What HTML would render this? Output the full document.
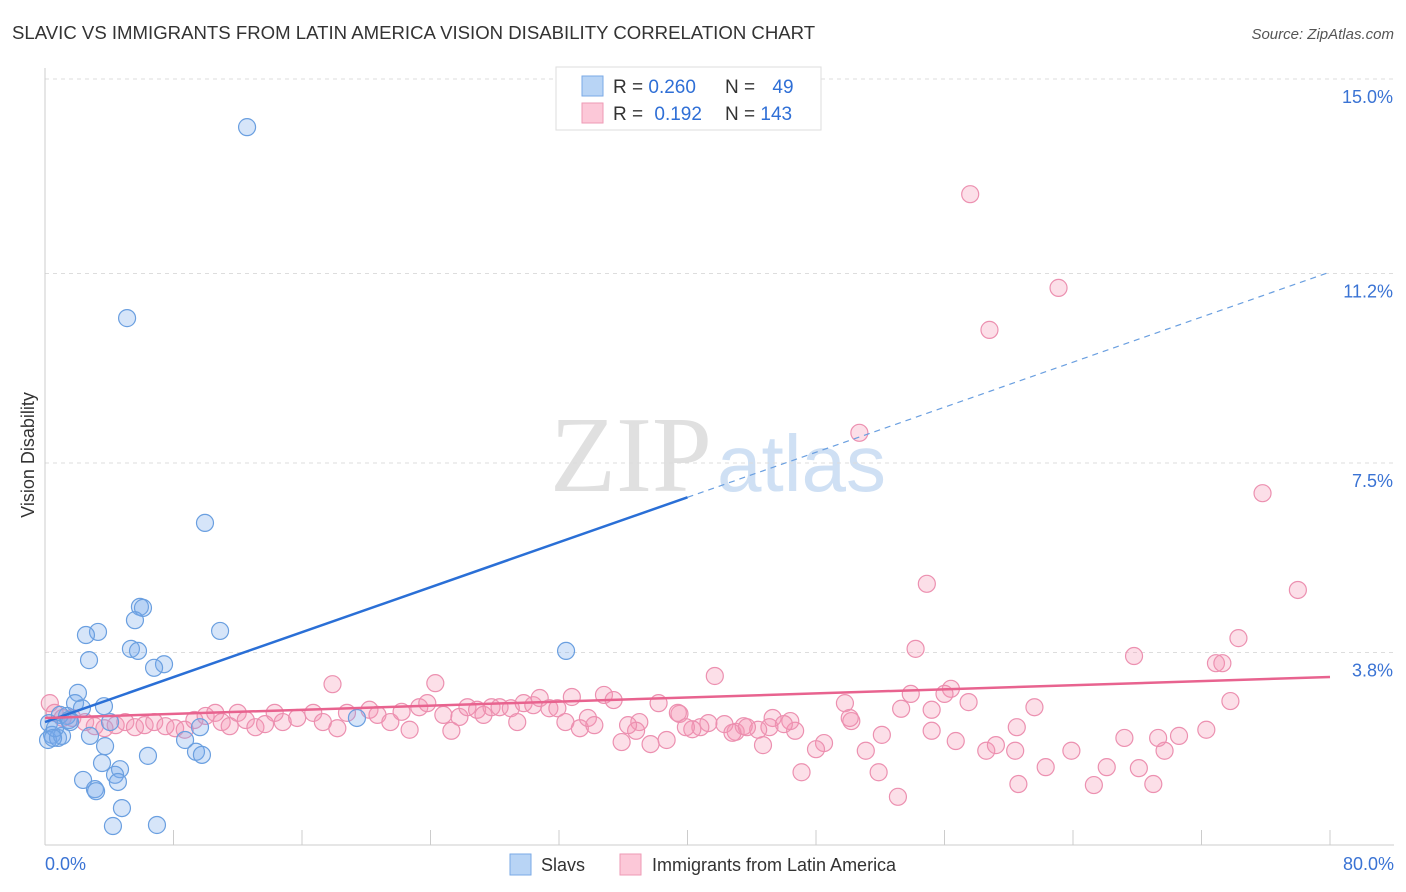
<!DOCTYPE html>
<html><head><meta charset="utf-8">
<style>
body{margin:0;background:#fff;font-family:"Liberation Sans",sans-serif;}
svg{display:block}
</style></head>
<body>
<svg id="chart" width="1406" height="892" viewBox="0 0 1406 892" xmlns="http://www.w3.org/2000/svg">
<text x="12" y="39" font-size="18.6" fill="#333">SLAVIC VS IMMIGRANTS FROM LATIN AMERICA VISION DISABILITY CORRELATION CHART</text>
<text x="1394" y="39" font-size="15" fill="#555" font-style="italic" text-anchor="end">Source: ZipAtlas.com</text>
<g>
<text x="712" y="491" font-size="108" fill="#e0e0e0" font-family="Liberation Serif,serif" text-anchor="end">ZIP</text>
<text x="717" y="491" font-size="80" fill="#cfe0f4">atlas</text>
</g>
<g id="grid"></g>
<g id="axes"></g>
<text x="34" y="455" font-size="18" fill="#333" text-anchor="middle" transform="rotate(-90 34 455)">Vision Disability</text>
<g id="pinkpts"></g>
<g id="bluepts"></g>
<g id="trends"></g>
<g>
<rect x="556" y="67" width="265" height="63" fill="#fff" stroke="#ddd"/>
<rect x="582" y="76" width="21" height="20" fill="#b8d4f5" stroke="#7aaae6"/>
<rect x="582" y="103" width="21" height="20" fill="#fcc8d8" stroke="#ee9ab5"/>
<text x="613" y="93" font-size="19" fill="#333">R = <tspan fill="#2f6fd6">0.260</tspan></text>
<text x="725" y="93" font-size="19" fill="#333">N = <tspan fill="#2f6fd6" dx="12">49</tspan></text>
<text x="613" y="120" font-size="19" fill="#333">R = <tspan fill="#2f6fd6" dx="6">0.192</tspan></text>
<text x="725" y="120" font-size="19" fill="#333">N = <tspan fill="#2f6fd6">143</tspan></text>
</g>
<g>
<rect x="510" y="854" width="21" height="21" fill="#b8d4f5" stroke="#7aaae6"/>
<text x="541" y="871" font-size="18" fill="#333">Slavs</text>
<rect x="620" y="854" width="21" height="21" fill="#fcc8d8" stroke="#ee9ab5"/>
<text x="652" y="871" font-size="18" fill="#333">Immigrants from Latin America</text>
</g>
</svg>
<script>
const yTicks=[3.8,7.5,11.2,15.0];
const yTickLabels=["3.8%","7.5%","11.2%","15.0%"];
const xTickLabels=["0.0%","80.0%"];
const slavX=[12.58,5.11,9.96,5.91,6.10,5.60,3.30,2.55,10.90,5.35,5.79,2.74,7.41,6.79,32.44,2.05,3.67,1.87,2.30,4.05,1.37,0.93,0.25,0.44,0.19,0.81,1.06,2.80,8.72,3.74,9.65,9.40,9.77,6.41,3.55,4.67,2.37,4.36,3.11,3.18,4.54,4.79,4.23,6.97,19.42,1.49,1.56,0.62,0.50];
const slavY=[14.06,10.33,6.33,4.69,4.67,4.43,4.20,4.14,4.22,3.87,3.83,3.65,3.57,3.50,3.83,3.01,2.75,2.81,2.71,2.44,2.56,2.58,2.42,2.19,2.09,2.13,2.17,2.17,2.09,1.97,2.34,1.86,1.80,1.78,1.64,1.52,1.31,1.41,1.13,1.09,1.27,0.76,0.41,0.43,2.52,2.48,2.44,2.32,2.13];
const latX=[57.6,63.1,58.8,50.7,75.8,54.9,78.0,74.3,54.2,67.8,72.9,73.3,41.7,56.4,56.0,53.9,57.5,73.8,61.6,49.8,17.9,24.3,34.8,35.4,32.8,38.2,53.1,69.0,60.6,65.3,62.3,68.1,66.1,51.9,47.1,63.9,69.7,60.4,58.6,59.2,51.1,48.5,48.0,44.7,67.2,69.3,70.6,72.3,60.5,56.7,55.2,52.1,46.7,43.0,50.2,50.1,53.3,55.2,46.4,45.3,46.0,45.1,44.4,43.5,42.3,41.3,40.8,40.3,39.5,38.7,37.7,37.0,36.8,35.9,14.8,15.7,16.7,17.3,18.2,18.8,20.2,20.7,21.5,22.2,22.7,23.3,23.8,24.8,25.3,25.8,26.3,26.9,27.3,27.8,28.3,29.0,29.4,29.8,30.4,30.8,31.4,31.9,32.4,33.3,33.8,34.2,36.3,39.4,39.9,42.8,43.7,0.3,0.6,1.1,1.7,2.5,3.1,3.7,4.4,5.0,5.6,6.2,6.8,7.5,8.1,8.7,9.3,10.0,10.6,11.0,11.5,12.0,12.5,13.1,13.7,14.3];
const latY=[12.75,10.92,10.10,8.09,6.91,5.14,5.02,4.08,3.87,3.73,3.59,3.59,3.34,3.09,2.99,2.99,2.83,2.85,2.73,2.81,3.18,3.20,2.97,2.87,2.93,2.81,0.98,1.23,1.23,1.21,1.56,1.54,1.56,1.46,1.46,1.88,1.88,1.88,1.88,1.99,1.88,2.03,1.91,1.99,2.13,2.13,2.17,2.29,2.34,2.07,2.27,2.19,2.27,2.25,2.46,2.52,2.70,2.68,2.46,2.52,2.40,2.34,2.29,2.36,2.40,2.42,2.34,2.30,2.60,2.09,2.01,2.44,2.27,2.05,2.44,2.52,2.62,2.44,2.32,2.62,2.68,2.58,2.44,2.64,2.29,2.73,2.81,2.58,2.27,2.54,2.73,2.68,2.58,2.73,2.73,2.71,2.44,2.81,2.77,2.91,2.71,2.71,2.44,2.32,2.52,2.38,2.38,2.62,2.34,2.23,2.34,2.81,2.62,2.52,2.52,2.44,2.36,2.32,2.38,2.44,2.34,2.38,2.44,2.36,2.32,2.29,2.48,2.56,2.62,2.44,2.36,2.62,2.48,2.34,2.40,2.62];
const slavTrendX=[0,40,80];
const slavTrendY=[2.44,6.83,11.23];
const latTrendX=[0,80];
const latTrendY=[2.52,3.32];

const NS="http://www.w3.org/2000/svg";
const X0=45,X1=1330,Y0=847,PXPERPCT=51.2;
function sx(v){return X0+(X1-X0)*v/80;}
function sy(v){return Y0-v*PXPERPCT;}
function mk(tag,attrs,parent){const e=document.createElementNS(NS,tag);for(const k in attrs)e.setAttribute(k,attrs[k]);parent.appendChild(e);return e;}

const grid=document.getElementById('grid');
yTicks.forEach((t,i)=>{
  const l=mk('line',{x1:X0,x2:1394,y1:sy(t),y2:sy(t),stroke:'#ddd','stroke-dasharray':'4,4'},grid);
  
  
  const tx=mk('text',{x:1393,y:sy(t)+24,'font-size':18,fill:'#3a73d4','text-anchor':'end'},grid);
  tx.textContent=yTickLabels[i];
  
  
});
const axes=document.getElementById('axes');
const xa=mk('line',{x1:X0,x2:1394,y1:845,y2:845,stroke:'#ccc'},axes);


const ya=mk('line',{x1:X0,x2:X0,y1:68,y2:845,stroke:'#ccc'},axes);


for(let i=0;i<=10;i++){
  const t=mk('line',{x1:sx(i*8),x2:sx(i*8),y1:830,y2:845,stroke:'#ccc'},axes);
  
  
}
[[0,'start',45],[80,'end',1394]].forEach((d,i)=>{
  const tx=mk('text',{x:d[2],y:870,'font-size':18,fill:'#3a73d4','text-anchor':d[1]},axes);
  tx.textContent=xTickLabels[i];
  
  
});
const pg=document.getElementById('pinkpts');
latX.forEach((v,i)=>{
  const c=mk('circle',{cx:sx(v),cy:sy(latY[i]),r:8.5,fill:'rgba(245,150,180,0.3)',stroke:'#ec90b0','stroke-width':1.2},pg);
  
  
});
const bg=document.getElementById('bluepts');
slavX.forEach((v,i)=>{
  const c=mk('circle',{cx:sx(v),cy:sy(slavY[i]),r:8.5,fill:'rgba(120,170,235,0.3)',stroke:'#6a9fe0','stroke-width':1.2},bg);
  
  
});
const tg=document.getElementById('trends');
const bs=mk('line',{x1:sx(slavTrendX[0]),y1:sy(slavTrendY[0]),x2:sx(slavTrendX[1]),y2:sy(slavTrendY[1]),stroke:'#2a6fd6','stroke-width':2.5},tg);


const bd=mk('line',{x1:sx(slavTrendX[1]),y1:sy(slavTrendY[1]),x2:sx(slavTrendX[2]),y2:sy(slavTrendY[2]),stroke:'#6a9fe0','stroke-width':1.2,'stroke-dasharray':'6,5'},tg);


const pl=mk('line',{x1:sx(latTrendX[0]),y1:sy(latTrendY[0]),x2:sx(latTrendX[1]),y2:sy(latTrendY[1]),stroke:'#e8638f','stroke-width':2.5},tg);


</script>
</body></html>
